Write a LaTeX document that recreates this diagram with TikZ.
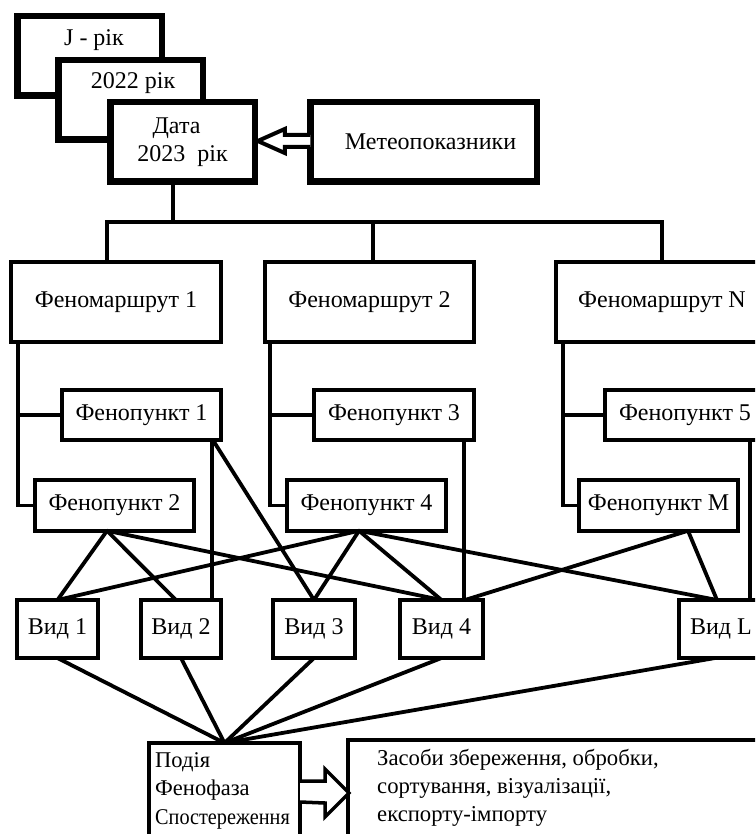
\documentclass[tikz,border=0pt]{standalone}
\usepackage{fontspec}
\setmainfont{Liberation Serif}
\usetikzlibrary{calc}
\begin{document}
\begin{tikzpicture}[x=1pt,y=-1pt,
  font=\fontsize{24}{28}\selectfont,
  heavy/.style={draw, line width=6.5pt, fill=white, outer sep=0pt, inner sep=0pt},
  box/.style={draw, line width=4pt, fill=white, outer sep=0pt, inner sep=0pt},
  conn/.style={line width=3.8pt},
  bigarrow/.style={draw, fill=white, line join=miter},
  txt/.style={inner sep=0pt, align=center}
]
\useasboundingbox (0,0) rectangle (755,834);
\clip (0,0) rectangle (755,834);

% ---- connectors ----
\coordinate (bus) at (173,222);
\coordinate (busL) at (107,222);
\coordinate (busM) at (373,222);
\coordinate (busR) at (662,222);

% ---- boxes ----
\node[heavy, minimum width=144.5, minimum height=79.5] (jrik) at (89.5,56) {};
\node[txt] (jtxt) at (94,40) {J - рік};
\node[heavy, minimum width=144.5, minimum height=79.5] (y2022) at (130.5,100) {};
\node[txt] (ytxt) at (133,83) {2022 рік};
\node[heavy, minimum width=144.5, minimum height=79.5, align=center] (data) at (182.5,142) {\hspace*{-12pt}Дата\\2023\ \ рік};
\node[heavy, minimum width=226.5, minimum height=79.5] (meteo) at (423.5,142) {\hspace*{14pt}Метеопоказники};

\node[box, minimum width=210, minimum height=80] (m1) at (116,302) {Феномаршрут 1};
\node[box, minimum width=209, minimum height=80] (m2) at (369.5,302) {Феномаршрут 2};
\node[box, minimum width=212, minimum height=80] (mN) at (662,302) {Феномаршрут N};

\node[box, minimum width=159, minimum height=50.5] (p1) at (141.5,415) {Фенопункт 1};
\node[box, minimum width=159, minimum height=50.5] (p2) at (114.5,505.5) {Фенопункт 2};
\node[box, minimum width=160, minimum height=50.5] (p3) at (394,415) {Фенопункт 3};
\node[box, minimum width=159, minimum height=50.5] (p4) at (366.5,505.5) {Фенопункт 4};
\node[box, minimum width=160, minimum height=50.5] (p5) at (685,415) {Фенопункт 5};
\node[box, minimum width=159, minimum height=50.5] (pM) at (658.5,505.5) {Фенопункт M};

\node[box, minimum width=81, minimum height=58] (v1) at (57.5,629) {Вид 1};
\node[box, minimum width=80, minimum height=58] (v2) at (181,629) {Вид 2};
\node[box, minimum width=82, minimum height=58] (v3) at (314,629) {Вид 3};
\node[box, minimum width=83, minimum height=58] (v4) at (441.5,629) {Вид 4};
\node[box, minimum width=84, minimum height=58] (vL) at (721,629) {Вид L};

\node[box, minimum width=151, minimum height=107] (pod) at (224.5,796.5) {};
\node[box, minimum width=430, minimum height=110] (zas) at (563,795) {};

% ---- connectors ----
\draw[conn] (data.south -| bus) -- (bus);
\draw[conn] (m1.north -| busL) -- (busL) -- (busR) -- (mN.north -| busR);
\draw[conn] (busM) -- (m2.north -| busM);

\draw[conn] (m1.south -| 18,0) |- (p1.west);
\draw[conn] (m1.south -| 18,0) |- (p2.west);
\draw[conn] (m2.south -| 270,0) |- (p3.west);
\draw[conn] (m2.south -| 270,0) |- (p4.west);
\draw[conn] (mN.south -| 563,0) |- (p5.west);
\draw[conn] (mN.south -| 563,0) |- (pM.west);

\coordinate (p2b) at (p2.south -| 107,0);
\coordinate (p4b) at (p4.south -| 359,0);
\coordinate (pMb) at (pM.south -| 688,0);

\draw[conn] (p1.south -| 212,0) -- (v2.north -| 212,0);
\draw[conn] (p1.south -| 213,0) -- (v3.north);
\draw[conn] (p3.south -| 464,0) -- (v4.north -| 464,0);
\draw[conn] (p5.south -| 750,0) -- (vL.north -| 750,0);

\draw[conn] (p2b) -- (v1.north);
\draw[conn] (p2b) -- (v2.north -| 176,0);
\draw[conn] (p2b) -- (v4.north);
\draw[conn] (p4b) -- (v1.north);
\draw[conn] (p4b) -- (v3.north);
\draw[conn] (p4b) -- (v4.north);
\draw[conn] (p4b) -- (vL.north -| 717,0);
\draw[conn] (pMb) -- (v4.north -| 465,0);
\draw[conn] (pMb) -- (vL.north -| 717,0);

\draw[conn] (v1.south) -- (pod.north);
\draw[conn] (v2.south) -- (pod.north);
\draw[conn] (v3.south) -- (pod.north);
\draw[conn] (v4.south) -- (pod.north);
\draw[conn] (vL.south -| 715,0) -- (pod.north);

% ---- block arrows ----
\coordinate (a1t) at (meteo.west);
\coordinate (a1h) at ($(data.east)+(3,-1)$);
\draw[bigarrow, line width=4pt]
  ($(a1t)+(0,-7)$) -- ($(a1h)+(27,-6)$) -- ($(a1h)+(27,-12)$) -- (a1h)
  -- ($(a1h)+(27,12)$) -- ($(a1h)+(27,6)$) -- ($(a1t)+(0,5)$);

\coordinate (a2t) at (pod.east |- 0,792);
\coordinate (a2h) at (zas.west |- 0,793);
\draw[bigarrow, line width=3.5pt]
  ($(a2t)+(0,-11)$) -- ($(a2h)+(-23,-12)$) -- ($(a2h)+(-23,-24)$) -- ($(a2h)+(1,0)$)
  -- ($(a2h)+(-23,24)$) -- ($(a2h)+(-23,10)$) -- ($(a2t)+(0,10)$);

% ---- texts in bottom boxes ----
\node[anchor=north west, inner sep=0pt, align=left, font=\fontsize{22.5}{28.5}\selectfont] (podtxt) at (155,752) {Подія\\Фенофаза\\\scalebox{0.9}[1]{Спостереження}};
\node[anchor=north west, inner sep=0pt, align=left, font=\fontsize{22.7}{28}\selectfont] (zastxt) at (377,749) {Засоби збереження, обробки,\\сортування, візуалізації,\\експорту-імпорту};
\end{tikzpicture}
\end{document}
